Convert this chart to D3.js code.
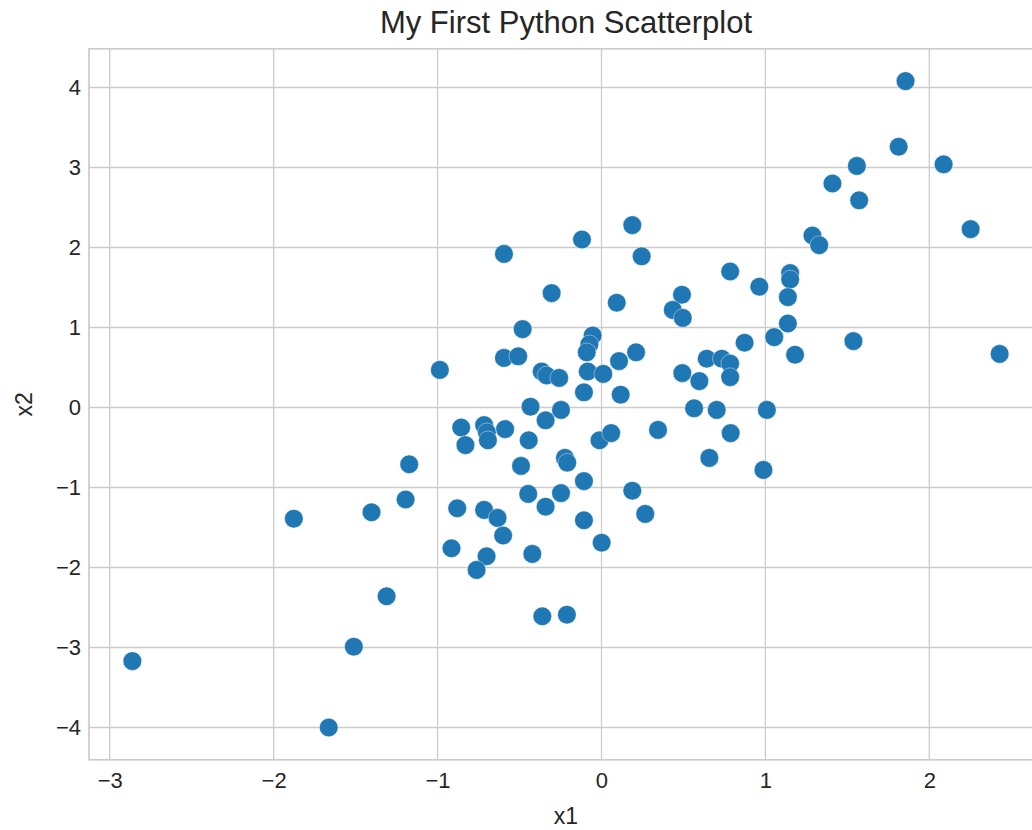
<!DOCTYPE html>
<html>
<head>
<meta charset="utf-8">
<script src="https://cdn.jsdelivr.net/npm/d3@7"></script>
<style>
  html, body { margin: 0; padding: 0; background: #ffffff; }
  svg { display: block; }
  text { font-family: "Liberation Sans", Arial, sans-serif; fill: #262626; }
</style>
</head>
<body>
<svg id="chart" width="1032" height="830"></svg>
<script>
const titleText = "My First Python Scatterplot";
const xLabel = "x1";
const yLabel = "x2";
const xTicks = [-3, -2, -1, 0, 1, 2];
const yTicks = [-4, -3, -2, -1, 0, 1, 2, 3, 4];

const x1 = [1.855, 1.813, 1.558, 2.087, 1.409, 1.572, 1.287, 1.328, 2.252, 0.188,
  -0.119, 0.245, -0.595, 0.785, 1.151, 1.151, 0.963, -0.304, 0.491, 0.093,
  1.137, 0.435, 0.496, -0.481, 1.137, -0.054, 1.054, 0.873, 1.537, -0.074,
  -0.090, 0.211, 1.181, 2.429, -0.595, -0.508, 0.642, 0.734, 0.785, 0.107,
  -0.986, -0.084, -0.365, -0.335, -0.258, 0.011, 0.493, 0.597, 0.785, -0.107,
  0.117, -0.433, 0.565, 0.703, 1.009, -0.247, -0.341, -0.856, -0.716, -0.699,
  -0.693, -0.588, -0.444, -0.012, 0.059, 0.345, 0.788, -0.830, -1.173, -0.491,
  -0.223, -0.209, 0.658, 0.988, -0.107, -0.447, -0.247, 0.188, -1.195, -1.877,
  -1.403, -0.880, -0.716, -0.341, -0.634, 0.267, -0.107, -0.600, 0.001, -0.915,
  -0.701, -0.422, -0.762, -1.311, -0.361, -0.211, -1.511, -2.862, -1.664];

const x2 = [4.08, 3.26, 3.02, 3.04, 2.80, 2.59, 2.15, 2.03, 2.23, 2.28,
  2.10, 1.89, 1.92, 1.70, 1.68, 1.60, 1.51, 1.43, 1.41, 1.31,
  1.38, 1.22, 1.12, 0.98, 1.05, 0.90, 0.88, 0.81, 0.83, 0.79,
  0.69, 0.69, 0.66, 0.67, 0.62, 0.64, 0.61, 0.61, 0.55, 0.58,
  0.47, 0.45, 0.45, 0.40, 0.37, 0.42, 0.43, 0.33, 0.38, 0.19,
  0.16, 0.01, -0.01, -0.03, -0.03, -0.03, -0.16, -0.25, -0.22, -0.31,
  -0.41, -0.27, -0.41, -0.41, -0.32, -0.28, -0.32, -0.47, -0.71, -0.73,
  -0.63, -0.69, -0.63, -0.78, -0.92, -1.08, -1.07, -1.04, -1.15, -1.39,
  -1.31, -1.26, -1.28, -1.24, -1.38, -1.33, -1.41, -1.60, -1.69, -1.76,
  -1.86, -1.83, -2.03, -2.36, -2.61, -2.59, -2.99, -3.17, -4.00];

const points = x1.map((v, i) => ({ x: v, y: x2[i] }));

const W = 1032, H = 830;
const plot = { left: 89, top: 48.8, width: 954, height: 711 };

function padded(arr) {
  const [lo, hi] = d3.extent(arr);
  const m = (hi - lo) * 0.05;
  return [lo - m, hi + m];
}

const xScale = d3.scaleLinear().domain(padded(x1)).range([plot.left, plot.left + plot.width]);
const yScale = d3.scaleLinear().domain(padded(x2)).range([plot.top + plot.height, plot.top]);

const svg = d3.select("#chart");
const grid = "#cccccc";

svg.append("defs").append("clipPath").attr("id", "clip")
  .append("rect").attr("x", plot.left).attr("y", plot.top)
  .attr("width", plot.width).attr("height", plot.height);

const g = svg.append("g");
g.selectAll("line.vx").data(xTicks).enter().append("line")
  .attr("x1", d => xScale(d)).attr("x2", d => xScale(d))
  .attr("y1", plot.top).attr("y2", plot.top + plot.height)
  .attr("stroke", grid).attr("stroke-width", 1.3);
g.selectAll("line.hy").data(yTicks).enter().append("line")
  .attr("y1", d => yScale(d)).attr("y2", d => yScale(d))
  .attr("x1", plot.left).attr("x2", plot.left + plot.width)
  .attr("stroke", grid).attr("stroke-width", 1.3);

svg.append("rect")
  .attr("x", plot.left).attr("y", plot.top)
  .attr("width", plot.width).attr("height", plot.height)
  .attr("fill", "none").attr("stroke", grid).attr("stroke-width", 1.7);

const xAxis = d3.axisBottom(xScale).tickValues(xTicks).tickSize(0).tickPadding(13).tickFormat(d3.format("d"));
const yAxis = d3.axisLeft(yScale).tickValues(yTicks).tickSize(0).tickPadding(8).tickFormat(d3.format("d"));

const gx = svg.append("g").attr("transform", `translate(0,${plot.top + plot.height})`).call(xAxis);
const gy = svg.append("g").attr("transform", `translate(${plot.left},0)`).call(yAxis);
[gx, gy].forEach(a => {
  a.select(".domain").remove();
  a.selectAll("text").attr("font-size", 22).attr("fill", "#262626")
    .style("font-family", '"Liberation Sans", Arial, sans-serif');
});

svg.append("g").attr("clip-path", "url(#clip)")
  .selectAll("circle").data(points).enter().append("circle")
  .attr("cx", d => xScale(d.x)).attr("cy", d => yScale(d.y))
  .attr("r", 9.3)
  .attr("fill", "#1f77b4")
  .attr("stroke", "#ffffff").attr("stroke-width", 0.4);

svg.append("text")
  .attr("x", plot.left + plot.width / 2).attr("y", 33)
  .attr("text-anchor", "middle").attr("font-size", 31)
  .text(titleText);

svg.append("text")
  .attr("x", plot.left + plot.width / 2).attr("y", 824)
  .attr("text-anchor", "middle").attr("font-size", 23)
  .text(xLabel);

svg.append("text")
  .attr("transform", `translate(32,${plot.top + plot.height / 2}) rotate(-90)`)
  .attr("text-anchor", "middle").attr("font-size", 23)
  .text(yLabel);
</script>
</body>
</html>
